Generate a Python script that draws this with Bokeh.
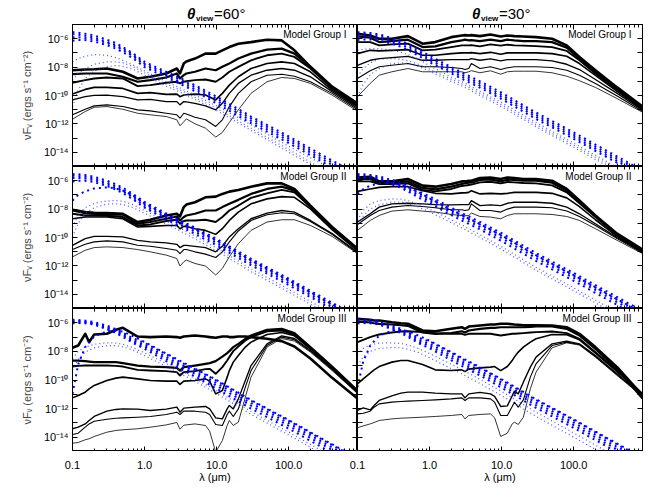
from bokeh.plotting import figure
from bokeh.layouts import gridplot, column
from bokeh.models import FixedTicker, LogAxis, Label
from bokeh.embed import file_html
from bokeh.resources import INLINE

# ---------------- data (log10 of nuF_nu in ergs s^-1 cm^-2) ----------------
WL_A = [0.1, 0.15, 0.2, 0.3, 0.5, 0.8, 1.2, 2.0, 2.8, 3.1, 3.5, 3.8, 5.0, 7.0, 9.7,
        12, 15, 20, 30, 50, 80, 120, 200, 400, 900]
WL_B = [0.1, 0.12, 0.15, 0.17, 0.2, 0.3, 0.4, 0.5, 0.8, 1.2, 2.0, 2.8, 3.1, 3.5, 5.0,
        7.0, 8.0, 9.7, 12, 14, 15, 17, 20, 25, 30, 50, 80, 120, 200, 400, 900]
WL_BLUE = [0.1, 0.12, 0.15, 0.2, 0.3, 0.4, 0.5, 0.7, 1, 2, 3, 5, 10, 30, 100, 300, 1000]

G1_60_SED = [
    [-8.22, -8.17, -8.15, -8.10, -8.33, -8.80, -8.68, -8.45, -8.10, -8.45, -7.75, -7.60, -7.40, -7.05, -7.05, -6.82, -6.59, -6.35, -6.24, -6.07, -6.12, -6.82, -7.98, -9.38, -10.55],
    [-8.50, -8.45, -8.45, -8.45, -8.68, -9.03, -8.92, -8.73, -8.45, -8.80, -8.57, -8.45, -8.33, -8.10, -8.22, -7.98, -7.75, -7.40, -7.05, -6.77, -6.70, -7.05, -7.98, -9.43, -10.60],
    [-9.10, -8.92, -8.80, -8.73, -8.80, -9.34, -9.27, -9.10, -9.03, -9.15, -9.03, -9.00, -8.92, -8.87, -9.03, -8.73, -8.33, -7.98, -7.52, -7.17, -7.05, -7.28, -8.10, -9.50, -10.70],
    [-9.90, -9.57, -9.43, -9.43, -9.50, -9.85, -9.80, -9.92, -9.90, -10.08, -9.97, -9.95, -9.90, -9.97, -10.31, -9.85, -9.27, -8.68, -8.10, -7.75, -7.63, -7.75, -8.33, -9.62, -10.80],
    [-10.31, -10.08, -9.99, -9.97, -10.08, -10.31, -10.27, -10.43, -10.43, -10.66, -10.43, -10.45, -10.55, -10.73, -11.01, -10.55, -9.85, -9.15, -8.57, -8.22, -8.10, -8.22, -8.68, -9.73, -10.90],
    [-11.36, -10.97, -10.73, -10.66, -10.78, -11.01, -11.08, -11.25, -11.36, -11.60, -11.25, -11.30, -11.53, -11.71, -12.18, -11.71, -10.78, -9.85, -9.03, -8.57, -8.50, -8.64, -9.03, -9.85, -11.00],
    [-11.67, -11.13, -10.83, -10.78, -10.97, -11.25, -11.36, -11.48, -11.71, -12.13, -11.85, -11.65, -11.99, -12.30, -12.93, -12.60, -11.90, -11.01, -9.85, -9.03, -8.73, -8.80, -9.15, -9.97, -11.10],
]
G1_30_SED = [
    [-5.65, -5.77, -6.00, -6.00, -5.82, -6.35, -6.24, -5.89, -5.77, -5.75, -5.77, -5.75, -5.82, -5.70, -5.84, -5.77, -5.82, -5.84, -5.89, -6.00, -6.47, -7.28, -8.22, -9.43, -10.78],
    [-5.84, -5.93, -6.24, -6.17, -6.07, -6.59, -6.54, -6.24, -6.12, -6.07, -6.12, -6.10, -6.17, -6.07, -6.17, -6.07, -6.12, -6.17, -6.17, -6.24, -6.63, -7.40, -8.33, -9.52, -10.83],
    [-6.24, -6.24, -6.47, -6.40, -6.35, -6.82, -6.77, -6.59, -6.47, -6.47, -6.47, -6.45, -6.54, -6.40, -6.49, -6.42, -6.47, -6.49, -6.52, -6.59, -6.86, -7.52, -8.45, -9.62, -10.90],
    [-7.05, -6.82, -6.86, -6.82, -6.77, -7.17, -7.17, -7.05, -7.00, -7.00, -7.00, -6.98, -7.05, -6.96, -7.10, -7.00, -7.00, -7.00, -7.00, -7.05, -7.24, -7.75, -8.59, -9.71, -10.97],
    [-7.87, -7.52, -7.40, -7.33, -7.24, -7.52, -7.52, -7.47, -7.47, -7.47, -7.47, -7.40, -7.52, -7.42, -7.56, -7.47, -7.47, -7.47, -7.47, -7.56, -7.80, -8.17, -8.87, -9.85, -11.04],
    [-8.80, -8.26, -7.98, -7.87, -7.75, -7.98, -7.98, -8.03, -8.10, -8.17, -8.10, -7.75, -8.10, -7.98, -8.17, -8.05, -7.98, -7.98, -7.98, -8.03, -8.22, -8.57, -9.15, -10.03, -11.11],
    [-10.08, -9.15, -8.57, -8.33, -8.10, -8.33, -8.33, -8.33, -8.33, -8.40, -8.33, -8.25, -8.40, -8.26, -8.50, -8.33, -8.29, -8.29, -8.29, -8.40, -8.64, -8.96, -9.43, -10.22, -11.18],
]
G2_60_SED = [
    [-8.05, -8.21, -8.26, -8.28, -8.33, -8.91, -8.75, -8.45, -8.33, -8.52, -7.86, -7.68, -7.52, -7.17, -7.12, -6.93, -6.77, -6.65, -6.42, -6.19, -6.19, -6.58, -7.75, -9.26, -10.78],
    [-8.10, -8.28, -8.33, -8.40, -8.38, -9.03, -8.91, -8.68, -8.52, -8.80, -8.56, -8.45, -8.33, -8.10, -8.10, -7.86, -7.63, -7.35, -6.93, -6.58, -6.42, -6.70, -7.82, -9.31, -10.83],
    [-8.33, -8.45, -8.45, -8.47, -8.56, -9.15, -9.08, -8.84, -8.75, -9.03, -8.84, -8.80, -8.80, -8.75, -8.91, -8.56, -8.10, -7.75, -7.21, -6.89, -6.65, -6.82, -7.86, -9.36, -10.87],
    [-8.68, -8.56, -8.56, -8.56, -8.68, -9.26, -9.22, -9.15, -9.15, -9.38, -9.22, -9.22, -9.38, -9.50, -9.78, -9.38, -8.80, -8.21, -7.63, -7.28, -7.12, -7.17, -7.98, -9.45, -10.94],
    [-10.55, -10.08, -9.92, -9.92, -9.96, -10.20, -10.31, -10.38, -10.48, -10.71, -10.55, -10.55, -10.62, -10.71, -11.01, -10.62, -9.96, -9.38, -8.68, -8.28, -8.10, -8.21, -8.80, -9.73, -11.03],
    [-10.85, -10.48, -10.31, -10.24, -10.31, -10.55, -10.62, -10.78, -10.90, -11.13, -10.85, -10.85, -11.01, -11.17, -11.41, -11.01, -10.31, -9.54, -8.80, -8.40, -8.26, -8.33, -8.87, -9.78, -11.08],
    [-11.36, -10.90, -10.71, -10.66, -10.71, -10.85, -11.01, -11.24, -11.48, -12.01, -11.71, -11.59, -11.83, -12.01, -12.64, -12.18, -11.36, -10.43, -9.50, -8.91, -8.75, -8.75, -9.15, -9.92, -11.13],
]
G2_30_SED = [
    [-5.77, -5.72, -6.05, -6.05, -5.88, -6.35, -6.42, -6.23, -6.05, -6.05, -6.00, -6.00, -5.81, -5.77, -5.88, -5.77, -5.81, -5.88, -5.88, -6.00, -6.58, -7.40, -8.45, -9.73, -10.85],
    [-5.88, -5.88, -6.14, -6.14, -6.05, -6.51, -6.61, -6.42, -6.23, -6.19, -6.14, -6.14, -5.95, -5.91, -6.05, -5.93, -5.95, -6.00, -6.00, -6.14, -6.70, -7.49, -8.52, -9.78, -10.90],
    [-6.05, -6.05, -6.23, -6.23, -6.19, -6.65, -6.75, -6.58, -6.37, -6.35, -6.30, -6.28, -6.12, -6.07, -6.19, -6.09, -6.12, -6.16, -6.19, -6.33, -6.82, -7.59, -8.56, -9.82, -10.94],
    [-6.75, -6.58, -6.47, -6.42, -6.42, -6.70, -6.89, -6.93, -6.86, -6.86, -6.82, -6.70, -6.93, -6.89, -6.93, -6.89, -6.82, -6.82, -6.82, -6.89, -7.21, -7.82, -8.75, -9.92, -10.99],
    [-8.91, -8.33, -7.86, -7.63, -7.59, -7.63, -7.68, -7.70, -7.68, -7.68, -7.68, -7.40, -7.75, -7.70, -7.75, -7.59, -7.52, -7.52, -7.52, -7.59, -7.86, -8.33, -9.03, -10.01, -11.03],
    [-9.08, -8.45, -8.10, -7.86, -7.75, -7.82, -7.91, -8.05, -8.05, -8.10, -8.05, -7.63, -8.10, -8.10, -8.21, -8.00, -7.86, -7.86, -7.86, -7.91, -8.14, -8.52, -9.15, -10.08, -11.08],
    [-9.50, -8.80, -8.45, -8.14, -8.05, -8.14, -8.21, -8.38, -8.45, -8.47, -8.45, -8.28, -8.52, -8.56, -8.68, -8.45, -8.33, -8.33, -8.33, -8.38, -8.52, -8.80, -9.38, -10.20, -11.13],
]
G3_60_SED = [
    [-7.75, -7.59, -6.77, -7.35, -6.82, -6.77, -6.49, -6.35, -6.96, -7.00, -6.96, -7.00, -7.05, -6.96, -6.89, -6.96, -7.00, -7.05, -6.96, -6.96, -7.00, -7.00, -6.96, -6.96, -7.00, -7.12, -7.28, -7.66, -8.50, -9.85, -11.30],
    [-8.64, -8.64, -8.68, -8.71, -8.75, -8.75, -8.75, -8.82, -8.99, -9.06, -9.10, -9.15, -9.34, -9.10, -8.99, -8.87, -8.82, -8.68, -8.36, -8.12, -7.98, -7.70, -7.47, -7.12, -6.89, -6.49, -6.42, -6.72, -7.70, -9.06, -10.73],
    [-9.06, -9.01, -8.99, -8.99, -8.99, -8.99, -9.01, -9.06, -9.29, -9.34, -9.38, -9.45, -9.69, -9.45, -9.38, -9.24, -9.22, -9.57, -9.10, -8.64, -8.40, -7.98, -7.66, -7.24, -7.00, -6.59, -6.54, -6.82, -7.75, -9.10, -10.78],
    [-11.25, -11.08, -10.85, -10.62, -10.38, -10.03, -9.87, -9.80, -9.92, -10.03, -10.08, -10.08, -10.31, -10.08, -10.03, -9.92, -10.08, -10.97, -10.73, -9.80, -9.34, -8.75, -8.29, -7.70, -7.35, -6.82, -6.68, -6.91, -7.82, -9.15, -10.83],
    [-13.41, -13.30, -13.07, -12.83, -12.55, -12.18, -12.06, -12.02, -12.04, -12.13, -12.04, -11.90, -12.25, -11.97, -11.90, -11.85, -12.02, -12.65, -12.72, -12.02, -11.78, -12.02, -11.32, -10.03, -8.99, -7.47, -6.91, -7.10, -7.94, -9.22, -10.87],
    [-13.81, -13.72, -13.30, -13.07, -12.88, -12.74, -12.67, -12.65, -12.60, -12.55, -12.41, -12.25, -12.41, -12.18, -12.18, -12.25, -12.41, -13.11, -13.18, -12.41, -12.18, -12.55, -12.02, -10.50, -9.34, -7.59, -7.00, -7.19, -7.98, -9.27, -10.90],
    [-14.42, -14.37, -14.18, -14.11, -13.95, -13.65, -13.53, -13.48, -13.41, -13.30, -13.14, -12.97, -13.44, -13.16, -13.07, -13.18, -13.58, -15.05, -14.23, -13.18, -12.83, -13.18, -12.95, -11.20, -9.80, -7.70, -7.10, -7.28, -8.05, -9.34, -10.94],
]
G3_30_SED = [
    [-5.72, -5.75, -5.79, -5.84, -5.84, -5.96, -6.03, -6.07, -6.54, -6.59, -6.42, -6.31, -6.42, -6.26, -6.19, -6.12, -6.12, -6.07, -6.07, -6.10, -6.12, -6.14, -6.17, -6.17, -6.17, -6.19, -6.31, -6.77, -7.70, -9.10, -11.08],
    [-5.89, -5.93, -5.98, -6.03, -6.07, -6.12, -6.17, -6.21, -6.68, -6.77, -6.72, -6.59, -6.68, -6.54, -6.42, -6.35, -6.35, -6.31, -6.31, -6.31, -6.31, -6.31, -6.31, -6.28, -6.26, -6.26, -6.42, -6.89, -7.82, -9.22, -11.29],
    [-7.35, -7.19, -7.00, -6.91, -6.82, -6.68, -6.61, -6.59, -6.65, -6.72, -6.77, -6.77, -6.84, -6.77, -6.77, -6.77, -6.82, -6.89, -6.82, -6.77, -6.77, -6.75, -6.72, -6.68, -6.65, -6.61, -6.72, -7.12, -8.05, -9.34, -10.97],
    [-10.27, -9.92, -9.52, -9.29, -9.06, -8.75, -8.64, -8.64, -8.92, -9.29, -9.34, -9.29, -9.41, -9.24, -9.15, -9.10, -9.06, -9.34, -9.06, -8.64, -8.40, -8.05, -7.70, -7.35, -7.12, -6.82, -6.84, -7.19, -8.12, -9.41, -11.01],
    [-12.13, -11.95, -12.09, -11.78, -11.43, -11.11, -10.92, -10.85, -10.85, -10.92, -10.97, -10.97, -11.25, -10.97, -10.87, -10.97, -11.15, -11.85, -11.81, -11.11, -10.78, -10.97, -10.15, -9.10, -8.40, -7.47, -7.28, -7.47, -8.29, -9.57, -11.06],
    [-12.37, -12.32, -12.18, -11.90, -11.67, -11.55, -11.50, -11.48, -11.43, -11.39, -11.32, -11.25, -11.43, -11.25, -11.25, -11.32, -11.55, -12.48, -12.48, -11.85, -11.55, -11.90, -11.39, -9.80, -8.87, -7.59, -7.35, -7.52, -8.36, -9.62, -11.11],
    [-13.34, -13.21, -13.07, -12.97, -12.83, -12.72, -12.67, -12.65, -12.60, -12.55, -12.48, -12.41, -12.72, -12.48, -12.41, -12.37, -12.65, -13.95, -13.72, -13.07, -12.95, -13.11, -12.60, -10.62, -9.45, -7.75, -7.40, -7.56, -8.40, -9.69, -11.15],
]

# blue dotted curves (stellar input spectra), heavy and light
G1_60_STAR_HEAVY = [
    [-5.54, -5.58, -5.65, -5.77, -6.07, -6.31, -6.59, -7.05, -7.63, -8.33, -8.73, -9.27, -10.08, -11.48, -12.88, -14.23, -15.68],
    [-5.68, -5.72, -5.80, -5.92, -6.22, -6.45, -6.72, -7.15, -7.75, -8.45, -8.85, -9.40, -10.22, -11.62, -13.02, -14.37, -15.82],
    [-5.90, -5.90, -5.95, -6.05, -6.30, -6.55, -6.80, -7.25, -7.85, -8.58, -9.00, -9.55, -10.38, -11.78, -13.18, -14.53, -16.00],
    [-6.15, -6.10, -6.10, -6.20, -6.45, -6.70, -6.95, -7.40, -8.00, -8.72, -9.15, -9.70, -10.55, -11.95, -13.35, -14.70, -16.20],
]
G1_60_STAR_LIGHT = [
    [-7.63, -7.40, -7.24, -7.12, -7.17, -7.33, -7.52, -7.87, -8.26, -9.03, -9.43, -9.97, -10.73, -12.06, -13.58, -14.86, -16.30],
    [-8.92, -8.45, -8.10, -7.80, -7.63, -7.63, -7.70, -7.98, -8.40, -9.20, -9.57, -10.13, -10.90, -12.30, -13.81, -15.20, -16.60],
    [-10.78, -9.62, -8.80, -8.26, -7.98, -7.89, -7.94, -8.17, -8.57, -9.34, -9.73, -10.27, -11.06, -12.46, -14.00, -15.35, -16.80],
]
G1_30_STAR_HEAVY = [
    [-5.54, -5.56, -5.60, -5.70, -5.95, -6.15, -6.35, -6.75, -7.20, -8.00, -8.45, -9.00, -9.80, -11.20, -12.60, -13.95, -15.40],
    [-5.65, -5.68, -5.72, -5.82, -6.07, -6.28, -6.50, -6.90, -7.35, -8.15, -8.60, -9.15, -9.95, -11.35, -12.75, -14.10, -15.55],
    [-5.85, -5.85, -5.88, -5.95, -6.20, -6.42, -6.63, -7.03, -7.50, -8.30, -8.75, -9.30, -10.10, -11.50, -12.90, -14.25, -15.70],
    [-6.10, -6.05, -6.05, -6.12, -6.35, -6.57, -6.80, -7.20, -7.65, -8.45, -8.90, -9.45, -10.25, -11.65, -13.05, -14.40, -15.85],
]
G1_30_STAR_LIGHT = [
    [-6.82, -6.75, -6.70, -6.70, -6.80, -6.95, -7.12, -7.45, -7.90, -8.70, -9.10, -9.70, -10.50, -11.90, -13.35, -14.70, -16.20],
    [-8.68, -8.10, -7.70, -7.45, -7.40, -7.45, -7.55, -7.80, -8.15, -8.85, -9.25, -9.85, -10.65, -12.05, -13.50, -14.85, -16.35],
    [-10.08, -9.20, -8.55, -8.10, -7.75, -7.70, -7.75, -7.95, -8.30, -9.00, -9.40, -10.00, -10.80, -12.20, -13.65, -15.00, -16.50],
]
G2_60_STAR_HEAVY = [
    [-5.53, -5.55, -5.60, -5.72, -6.00, -6.25, -6.50, -6.95, -7.50, -8.30, -8.75, -9.30, -10.10, -11.50, -12.90, -14.25, -15.70],
    [-5.65, -5.67, -5.72, -5.85, -6.13, -6.38, -6.63, -7.08, -7.65, -8.45, -8.90, -9.45, -10.25, -11.65, -13.05, -14.40, -15.85],
    [-5.81, -5.80, -5.85, -5.96, -6.25, -6.50, -6.75, -7.20, -7.78, -8.58, -9.03, -9.60, -10.40, -11.80, -13.20, -14.55, -16.00],
    [-6.05, -6.00, -6.00, -6.10, -6.38, -6.62, -6.88, -7.33, -7.90, -8.72, -9.17, -9.75, -10.55, -11.95, -13.35, -14.70, -16.15],
    [-7.40, -7.00, -6.75, -6.55, -6.47, -6.55, -6.70, -7.05, -7.60, -8.40, -8.85, -9.40, -10.20, -11.60, -13.00, -14.35, -15.80],
]
G2_60_STAR_LIGHT = [
    [-9.26, -8.40, -7.90, -7.60, -7.42, -7.40, -7.45, -7.70, -8.10, -8.85, -9.30, -9.90, -10.75, -12.20, -13.65, -15.00, -16.50],
    [-9.96, -9.00, -8.30, -7.90, -7.65, -7.62, -7.68, -7.90, -8.30, -9.05, -9.50, -10.10, -10.95, -12.40, -13.85, -15.20, -16.70],
]
G2_30_STAR_HEAVY = [
    [-5.53, -5.55, -5.60, -5.70, -5.95, -6.15, -6.35, -6.75, -7.10, -7.90, -8.35, -8.90, -9.70, -11.10, -12.50, -13.85, -15.30],
    [-5.62, -5.64, -5.68, -5.80, -6.07, -6.28, -6.50, -6.90, -7.28, -8.08, -8.53, -9.08, -9.88, -11.28, -12.68, -14.03, -15.48],
    [-5.72, -5.72, -5.76, -5.88, -6.18, -6.40, -6.62, -7.03, -7.43, -8.23, -8.70, -9.25, -10.05, -11.45, -12.85, -14.20, -15.65],
    [-5.80, -5.78, -5.80, -5.93, -6.25, -6.50, -6.75, -7.18, -7.60, -8.42, -8.88, -9.43, -10.25, -11.65, -13.05, -14.40, -15.85],
    [-6.93, -6.60, -6.35, -6.20, -6.20, -6.30, -6.45, -6.80, -7.25, -8.05, -8.50, -9.05, -9.85, -11.25, -12.65, -14.00, -15.45],
]
G2_30_STAR_LIGHT = [
    [-8.80, -8.10, -7.65, -7.40, -7.28, -7.30, -7.40, -7.65, -8.00, -8.75, -9.20, -9.80, -10.65, -12.10, -13.55, -14.90, -16.40],
    [-9.30, -8.50, -8.00, -7.70, -7.50, -7.50, -7.60, -7.85, -8.20, -8.95, -9.40, -10.00, -10.85, -12.30, -13.75, -15.10, -16.60],
]
G3_60_STAR_HEAVY = [
    [-5.79, -5.80, -5.85, -5.95, -6.20, -6.45, -6.70, -7.10, -7.40, -8.20, -8.70, -9.25, -10.05, -11.45, -12.85, -14.20, -15.65],
    [-5.88, -5.88, -5.92, -6.03, -6.30, -6.55, -6.80, -7.22, -7.55, -8.38, -8.85, -9.42, -10.22, -11.62, -13.02, -14.37, -15.82],
    [-5.97, -5.96, -5.98, -6.08, -6.38, -6.64, -6.90, -7.33, -7.68, -8.52, -9.00, -9.57, -10.40, -11.80, -13.20, -14.55, -16.00],
    [-6.05, -6.02, -6.03, -6.12, -6.45, -6.72, -6.98, -7.42, -7.82, -8.68, -9.17, -9.75, -10.60, -12.00, -13.40, -14.75, -16.20],
    [-10.97, -8.90, -7.70, -6.95, -6.60, -6.55, -6.62, -6.95, -7.35, -8.15, -8.62, -9.20, -10.00, -11.40, -12.80, -14.15, -15.60],
]
G3_60_STAR_LIGHT = [
    [-8.50, -8.00, -7.70, -7.50, -7.40, -7.42, -7.50, -7.75, -8.10, -8.85, -9.30, -9.90, -10.75, -12.20, -13.65, -15.00, -16.50],
    [-9.30, -8.55, -8.05, -7.75, -7.60, -7.60, -7.68, -7.92, -8.30, -9.05, -9.50, -10.10, -10.95, -12.40, -13.85, -15.20, -16.70],
]
G3_30_STAR_HEAVY = [
    [-5.72, -5.75, -5.80, -5.92, -6.18, -6.42, -6.65, -7.05, -7.30, -8.10, -8.60, -9.15, -10.00, -11.40, -12.80, -14.15, -15.60],
    [-5.82, -5.84, -5.88, -6.00, -6.28, -6.52, -6.76, -7.18, -7.47, -8.28, -8.77, -9.33, -10.18, -11.58, -12.98, -14.33, -15.78],
    [-5.92, -5.92, -5.95, -6.06, -6.36, -6.62, -6.87, -7.30, -7.62, -8.44, -8.93, -9.50, -10.36, -11.76, -13.16, -14.51, -15.96],
    [-6.05, -6.02, -6.03, -6.12, -6.45, -6.72, -6.98, -7.42, -7.78, -8.62, -9.10, -9.68, -10.55, -11.95, -13.35, -14.70, -16.15],
    [-10.50, -8.70, -7.60, -6.90, -6.55, -6.50, -6.58, -6.90, -7.25, -8.05, -8.52, -9.10, -9.95, -11.35, -12.75, -14.10, -15.55],
]
G3_30_STAR_LIGHT = [
    [-8.20, -7.80, -7.55, -7.42, -7.40, -7.45, -7.55, -7.80, -8.15, -8.90, -9.35, -9.95, -10.80, -12.25, -13.70, -15.05, -16.55],
    [-9.00, -8.40, -8.00, -7.80, -7.72, -7.75, -7.85, -8.08, -8.45, -9.20, -9.65, -10.25, -11.10, -12.55, -14.00, -15.35, -16.85],
]

GROUP_NAMES = ["Model Group I", "Model Group II", "Model Group III"]
VIEW_ANGLES = ["=60°", "=30°"]
X_TICKS = [0.1, 1.0, 10.0, 100.0]
X_TICK_TEXT = ["0.1", "1.0", "10.0", "100.0"]
Y_EXPONENTS = list(range(-14, -5))
X_LO, X_HI = 0.1, 900.0

# ---------------- styling / layout ----------------
FONT = "Liberation Sans"
SED_WIDTHS = [2.6, 2.2, 1.9, 1.6, 1.35, 1.1, 0.8]
FRAME_W = 285
FRAME_H = [142, 142, 143]
LEFT_B, RIGHT_B = 72, 14
STRIP_PAD = 32                      # extra room left of the panels in header/footer strips

SUP = str.maketrans("-0123456789", "⁻⁰¹²³⁴⁵⁶⁷⁸⁹")
y_major = [10.0 ** k for k in Y_EXPONENTS]
y_labels = {10.0 ** k: ("10" + str(k).translate(SUP) if k % 2 == 0 else " ") for k in Y_EXPONENTS}
x_minor = [m * d for d in (0.1, 1.0, 10.0, 100.0) for m in range(2, 10)]

# combined log scale for header/footer strips: right panel values are shifted by one panel span
SPAN = X_HI / X_LO
import math
PX_PER_DEC = FRAME_W / math.log10(SPAN)
STRIP_LO = X_LO / 10 ** (STRIP_PAD / PX_PER_DEC)
STRIP_HI = X_HI * SPAN
PANEL_MID = math.sqrt(X_LO * X_HI)


def style_axis(ax, ticker, labels=None):
    ax.ticker = ticker
    ax.major_tick_in = 5
    ax.major_tick_out = 0
    ax.minor_tick_in = 3
    ax.minor_tick_out = 0
    ax.axis_line_color = "black"
    ax.major_tick_line_color = "black"
    ax.minor_tick_line_color = "black"
    if labels is None:
        ax.major_label_text_font_size = "1px"
        ax.major_label_text_alpha = 0
        ax.major_label_standoff = 0
    else:
        ax.major_label_overrides = labels
        ax.major_label_text_font = FONT
        ax.major_label_text_font_size = "11px"
        ax.major_label_text_color = "black"
        ax.major_label_standoff = 4


def make_panel(row, col, seds, wl, heavy, light):
    left = col == 0
    fh = FRAME_H[row]
    p = figure(x_axis_type="log", y_axis_type="log",
               x_range=(X_LO, X_HI), y_range=(1e-15, 1e-5),
               frame_width=FRAME_W, frame_height=fh,
               min_border_left=LEFT_B if left else 0, min_border_right=0 if left else RIGHT_B,
               min_border_top=0, min_border_bottom=0,
               output_backend="svg", toolbar_location=None)
    p.grid.visible = False
    p.outline_line_color = "black"
    p.background_fill_color = "white"
    p.border_fill_color = "white"

    xt = lambda: FixedTicker(ticks=X_TICKS, minor_ticks=x_minor)
    yt = lambda: FixedTicker(ticks=y_major, minor_ticks=[])

    style_axis(p.xaxis[0], xt())
    if left:
        style_axis(p.yaxis[0], yt(), y_labels)
        p.yaxis[0].axis_label = "νFᵥ (ergs s⁻¹ cm⁻²)"
        p.yaxis[0].axis_label_text_font = FONT
        p.yaxis[0].axis_label_text_font_size = "11px"
        p.yaxis[0].axis_label_text_font_style = "normal"
        p.yaxis[0].axis_label_standoff = 8
    else:
        style_axis(p.yaxis[0], yt())

    top_ax = LogAxis()
    style_axis(top_ax, xt())
    p.add_layout(top_ax, "above")
    right_ax = LogAxis()
    style_axis(right_ax, yt())
    p.add_layout(right_ax, "right")

    for i, vals in enumerate(seds):
        p.line(wl, [10.0 ** v for v in vals], line_color="black",
               line_width=SED_WIDTHS[i], line_join="round")
    for vals in light:
        p.line(WL_BLUE, [10.0 ** v for v in vals], line_color="#3344ff",
               line_width=1.2, line_dash="1 3", line_alpha=0.9)
    for vals in heavy:
        p.line(WL_BLUE, [10.0 ** v for v in vals], line_color="#0000ff",
               line_width=2.0, line_dash="2 4")

    p.add_layout(Label(x=FRAME_W - 11, y=fh - 10, x_units="screen", y_units="screen",
                       text=GROUP_NAMES[row], text_align="right", text_baseline="middle",
                       text_font=FONT, text_font_size="10px", text_color="black"))
    return p


def make_strip(height):
    s = figure(x_axis_type="log", x_range=(STRIP_LO, STRIP_HI), y_range=(0, 1),
               frame_width=FRAME_W * 2 + STRIP_PAD, frame_height=height,
               min_border_left=LEFT_B - STRIP_PAD, min_border_right=RIGHT_B,
               min_border_top=0, min_border_bottom=0,
               x_axis_location=None, y_axis_location=None,
               output_backend="svg", toolbar_location=None)
    s.grid.visible = False
    s.outline_line_color = None
    s.background_fill_color = "white"
    s.border_fill_color = "white"
    return s


# header with the viewing-angle titles
header = make_strip(24)
for col, angle in enumerate(VIEW_ANGLES):
    xc = PANEL_MID * SPAN ** col
    header.add_layout(Label(x=xc, y=11, y_units="screen", x_offset=-28, text="θ",
                            text_font=FONT, text_font_size="15px", text_font_style="bold italic",
                            text_baseline="middle", text_color="black"))
    header.add_layout(Label(x=xc, y=6, y_units="screen", x_offset=-19, text="view",
                            text_font=FONT, text_font_size="8px", text_font_style="bold",
                            text_baseline="middle", text_color="black"))
    header.add_layout(Label(x=xc, y=11, y_units="screen", x_offset=-1, text=angle,
                            text_font=FONT, text_font_size="15px",
                            text_baseline="middle", text_color="black"))

# footer with the wavelength tick labels and axis titles
footer = make_strip(34)
for col in range(2):
    shift = SPAN ** col
    for t, txt in zip(X_TICKS, X_TICK_TEXT):
        footer.add_layout(Label(x=t * shift, y=21, y_units="screen", text=txt,
                                text_align="center", text_baseline="middle",
                                text_font=FONT, text_font_size="11px", text_color="black"))
    footer.add_layout(Label(x=PANEL_MID * shift, y=9, y_units="screen", text="λ (μm)",
                            text_align="center", text_baseline="middle",
                            text_font=FONT, text_font_size="11px", text_color="black"))

panels = [
    [make_panel(0, 0, G1_60_SED, WL_A, G1_60_STAR_HEAVY, G1_60_STAR_LIGHT),
     make_panel(0, 1, G1_30_SED, WL_A, G1_30_STAR_HEAVY, G1_30_STAR_LIGHT)],
    [make_panel(1, 0, G2_60_SED, WL_A, G2_60_STAR_HEAVY, G2_60_STAR_LIGHT),
     make_panel(1, 1, G2_30_SED, WL_A, G2_30_STAR_HEAVY, G2_30_STAR_LIGHT)],
    [make_panel(2, 0, G3_60_SED, WL_B, G3_60_STAR_HEAVY, G3_60_STAR_LIGHT),
     make_panel(2, 1, G3_30_SED, WL_B, G3_30_STAR_HEAVY, G3_30_STAR_LIGHT)],
]

grid = gridplot(panels, toolbar_location=None)
page = column(header, grid, footer)
open("out.html", "w").write(file_html(page, INLINE))
